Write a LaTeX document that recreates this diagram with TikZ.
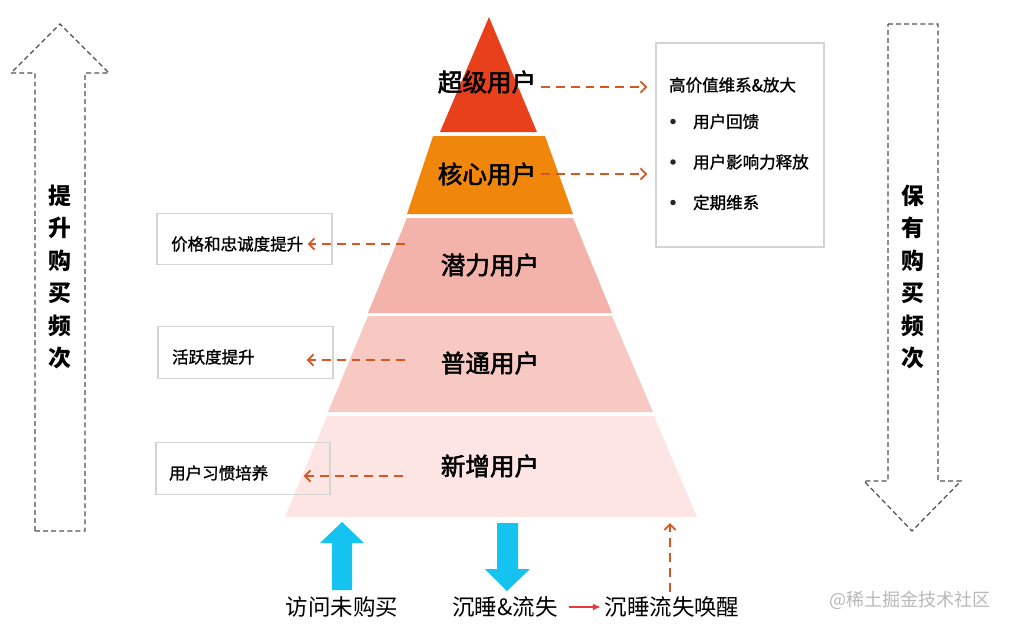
\documentclass[tikz,border=0pt]{standalone}
\usepackage{fontspec}
\setmainfont{Noto Sans CJK SC}
\newfontfamily\medfont[FakeBold=1.2]{Noto Sans CJK SC}
\newfontfamily\semifont[FakeBold=2.2]{Noto Sans CJK SC}
\usetikzlibrary{arrows.meta,calc,positioning}

\definecolor{topred}{RGB}{232,64,26}
\definecolor{coreorange}{RGB}{240,134,10}
\definecolor{potpink}{RGB}{243,179,171}
\definecolor{normpink}{RGB}{247,201,194}
\definecolor{newpink}{RGB}{252,229,226}
\definecolor{dashorange}{RGB}{214,88,32}
\definecolor{cyanarrow}{RGB}{20,195,240}
\definecolor{boxgray}{RGB}{212,212,212}
\definecolor{guidegray}{RGB}{80,80,80}
\definecolor{wakered}{RGB}{232,56,58}

\tikzset{
  layerlbl/.style={font=\fontsize{14}{16}\selectfont\semifont, inner sep=1pt},
  sidebox/.style={draw=boxgray, line width=0.6pt, minimum height=1.03cm},
  boxtext/.style={font=\fontsize{9.4}{11}\selectfont\medfont, inner sep=1pt, anchor=west},
  bulletdot/.style={circle, fill=black!85, inner sep=0pt, minimum size=0.11cm},
  odash/.style={dashorange, line width=1.1pt, dash pattern=on 5pt off 3.4pt,
    -{Straight Barb[length=3.2pt,width=6.4pt]}},
  guide/.style={guidegray, line width=0.7pt, dash pattern=on 2.8pt off 1.8pt},
  guidetext/.style={font=\fontsize{13}{18.5}\selectfont\bfseries, align=center},
  bottomtext/.style={font=\fontsize{12.8}{14}\selectfont, inner sep=1pt}
}

\begin{document}
\begin{tikzpicture}[x=0.02cm, y=-0.02cm]
  \useasboundingbox (0,0) rectangle (1009,629);

  % the five layers of the pyramid
  \fill[topred] (489,17) -- (537,132) -- (440,132) -- cycle;
  \fill[coreorange] (433,136) -- (545,136) -- (573,214) -- (407,214) -- cycle;
  \fill[potpink] (407,218) -- (573,218) -- (612,313) -- (368,313) -- cycle;
  \fill[normpink] (368,316) -- (612,316) -- (653,412) -- (328,412) -- cycle;
  \fill[newpink] (327,416) -- (654,416) -- (697,517) -- (285,517) -- cycle;

  \node[layerlbl] (super) at (487,82) {超级用户};
  \node[layerlbl] (core) at (487,174) {核心用户};
  \node[layerlbl] (potential) at (490,265) {潜力用户};
  \node[layerlbl] (normal) at (490,363) {普通用户};
  \node[layerlbl] (newuser) at (490,466) {新增用户};

  % right box for the top two layers
  \node[draw=boxgray, line width=0.6pt, minimum width=3.36cm, minimum height=4.08cm]
    (keep) at (740,145) {};
  \node[boxtext] (keeptitle) at (667,85) {高价值维系\&放大};
  \foreach \txt [count=\i] in {用户回馈, 用户影响力释放, 定期维系} {
    \node[bulletdot] (dot\i) at (673,81+40.5*\i) {};
    \node[boxtext] (item\i) at (691,81+40.5*\i) {\txt};
  }

  \draw[odash] ($(super.east)+(3,5)$) -- ($(super.east -| keep.west)+(-8,5)$);
  \draw[odash] ($(core.east)+(3,0)$) -- ($(core.east -| keep.west)+(-8,0)$);

  % left boxes for the lower three layers
  \node[sidebox, minimum width=3.5cm] (pbox) at (244.5,239) {};
  \node[boxtext] (ptext) at (169,244) {价格和忠诚度提升};
  \node[sidebox, minimum width=3.5cm] (nbox) at (245.5,352.5) {};
  \node[boxtext] (ntext) at (170,357) {活跃度提升};
  \node[sidebox, minimum width=3.48cm] (wbox) at (243,468.5) {};
  \node[boxtext] (wtext) at (167,473) {用户习惯培养};

  \draw[odash] ($(ptext.east -| potential.west)+(-34,0)$) -- ($(ptext.east -| pbox.east)+(-25,0)$);
  \draw[odash] ($(ntext.east -| normal.west)+(-34,3)$) -- ($(ntext.east -| nbox.east)+(-27,3)$);
  \draw[odash] ($(wtext.east -| newuser.west)+(-36,3)$) -- ($(wtext.east -| wbox.east)+(-27,3)$);

  % big dashed arrows at the sides
  \draw[guide] (35,531) -- (35,73) -- (11,73) -- (60,24) -- (109,73) -- (85,73) -- (85,531) -- cycle;
  \node[guidetext] (raise) at (60,277) {提\\升\\购\\买\\频\\次};
  \draw[guide] (888,24) -- (938,24) -- (938,481) -- (961,481) -- (912,531) -- (864,481) -- (888,481) -- cycle;
  \node[guidetext] (hold) at (913,277) {保\\有\\购\\买\\频\\次};

  % flows below the pyramid
  \fill[cyanarrow] (332,590) -- (332,543) -- (320,543) -- (342,522) -- (364,543) -- (352,543) -- (352,590) -- cycle;
  \fill[cyanarrow] (497,523) -- (518,523) -- (518,569) -- (530,569) -- (507,591) -- (485,569) -- (497,569) -- cycle;

  \node[bottomtext] (visit) at (342,607) {访问未购买};
  \node[bottomtext] (churn) at (505,607) {沉睡\&流失};
  \node[bottomtext] (wake) at (672,607) {沉睡流失唤醒};

  \draw[wakered, line width=0.7pt, -{Latex[length=4.5pt,width=4pt]}, shorten <=5pt, shorten >=1pt]
    (churn.east) -- (wake.west);
  \coordinate (wakeup) at (670,523);
  \draw[odash] ($(wake.north -| wakeup)+(0,-3)$) -- (wakeup);

  \node[font=\fontsize{10.3}{12}\selectfont, text=black!28] (mark) at (910,600) {@稀土掘金技术社区};
\end{tikzpicture}
\end{document}
